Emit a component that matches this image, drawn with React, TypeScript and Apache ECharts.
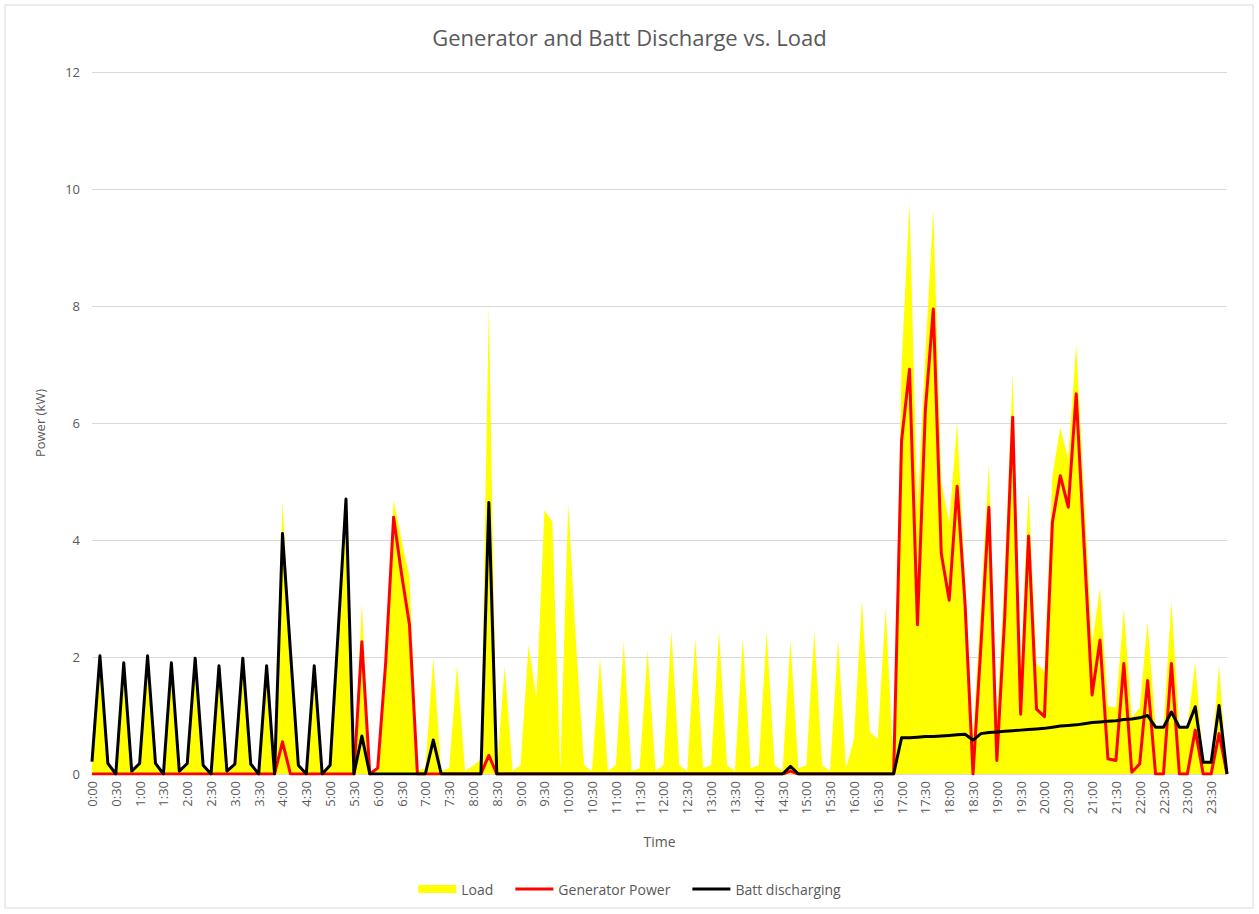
import React, { useEffect, useRef } from "react";
import * as echarts from "echarts";

const times: string[] = [
  "0:00","0:10","0:20","0:30","0:40","0:50","1:00","1:10","1:20","1:30","1:40","1:50",
  "2:00","2:10","2:20","2:30","2:40","2:50","3:00","3:10","3:20","3:30","3:40","3:50",
  "4:00","4:10","4:20","4:30","4:40","4:50","5:00","5:10","5:20","5:30","5:40","5:50",
  "6:00","6:10","6:20","6:30","6:40","6:50","7:00","7:10","7:20","7:30","7:40","7:50",
  "8:00","8:10","8:20","8:30","8:40","8:50","9:00","9:10","9:20","9:30","9:40","9:50",
  "10:00","10:10","10:20","10:30","10:40","10:50","11:00","11:10","11:20","11:30","11:40","11:50",
  "12:00","12:10","12:20","12:30","12:40","12:50","13:00","13:10","13:20","13:30","13:40","13:50",
  "14:00","14:10","14:20","14:30","14:40","14:50","15:00","15:10","15:20","15:30","15:40","15:50",
  "16:00","16:10","16:20","16:30","16:40","16:50","17:00","17:10","17:20","17:30","17:40","17:50",
  "18:00","18:10","18:20","18:30","18:40","18:50","19:00","19:10","19:20","19:30","19:40","19:50",
  "20:00","20:10","20:20","20:30","20:40","20:50","21:00","21:10","21:20","21:30","21:40","21:50",
  "22:00","22:10","22:20","22:30","22:40","22:50","23:00","23:10","23:20","23:30","23:40","23:50",
];

const load: number[] = [
  0.21, 2.02, 0.18, 0, 1.9, 0.05, 0.18, 2.02, 0.18, 0, 1.9, 0.05,
  0.18, 1.98, 0.15, 0, 1.85, 0.05, 0.17, 1.98, 0.17, 0, 1.85, 0,
  4.66, 2.1, 0.15, 0, 1.85, 0, 0.15, 2.4, 4.7, 0, 2.91, 0,
  0.12, 1.95, 4.68, 4.0, 3.37, 0.05, 0.1, 1.98, 0.05, 0.1, 1.86, 0.05,
  0.14, 0.25, 8.0, 0.05, 1.84, 0.05, 0.15, 2.2, 1.3, 4.51, 4.31, 0.05,
  4.63, 2.2, 0.15, 0.05, 1.98, 0.05, 0.15, 2.25, 0.05, 0.1, 2.12, 0.05,
  0.15, 2.43, 0.15, 0.05, 2.32, 0.1, 0.15, 2.43, 0.15, 0.05, 2.32, 0.1,
  0.15, 2.43, 0.15, 0.05, 2.29, 0.1, 0.15, 2.43, 0.15, 0.05, 2.29, 0.1,
  0.6, 2.97, 0.72, 0.6, 2.83, 0.05, 7.0, 9.76, 4.5, 7.2, 9.64, 5.0,
  4.3, 6.0, 3.3, 0.6, 2.9, 5.3, 0.95, 3.42, 6.85, 1.77, 4.83, 1.88,
  1.76, 5.1, 5.92, 5.39, 7.34, 4.76, 2.23, 3.18, 1.16, 1.14, 2.82, 0.97,
  1.13, 2.6, 0.8, 0.8, 2.95, 0.8, 0.8, 1.9, 0.2, 0.2, 1.86, 0,
];

const generatorPower: number[] = [
  0, 0, 0, 0, 0, 0, 0, 0, 0, 0, 0, 0,
  0, 0, 0, 0, 0, 0, 0, 0, 0, 0, 0, 0,
  0.55, 0, 0, 0, 0, 0, 0, 0, 0, 0, 2.26, 0,
  0.1, 1.9, 4.39, 3.42, 2.55, 0, 0, 0, 0, 0, 0, 0,
  0, 0, 0.32, 0, 0, 0, 0, 0, 0, 0, 0, 0,
  0, 0, 0, 0, 0, 0, 0, 0, 0, 0, 0, 0,
  0, 0, 0, 0, 0, 0, 0, 0, 0, 0, 0, 0,
  0, 0, 0, 0, 0.05, 0, 0, 0, 0, 0, 0, 0,
  0, 0, 0, 0, 0, 0, 5.7, 6.92, 2.55, 6.23, 7.95, 3.77,
  2.97, 4.92, 2.9, 0, 2.2, 4.56, 0.23, 2.69, 6.1, 1.02, 4.07, 1.11,
  0.98, 4.3, 5.1, 4.56, 6.5, 3.9, 1.35, 2.29, 0.26, 0.23, 1.89, 0.03,
  0.17, 1.6, 0, 0, 1.89, 0, 0, 0.75, 0, 0, 0.69, 0,
];

const battDischarging: number[] = [
  0.21, 2.02, 0.18, 0, 1.9, 0.05, 0.18, 2.02, 0.18, 0, 1.9, 0.05,
  0.18, 1.98, 0.15, 0, 1.85, 0.05, 0.17, 1.98, 0.17, 0, 1.85, 0,
  4.11, 2.1, 0.15, 0, 1.85, 0, 0.15, 2.4, 4.7, 0, 0.65, 0,
  0, 0, 0, 0, 0, 0, 0, 0.58, 0, 0, 0, 0,
  0, 0, 4.64, 0, 0, 0, 0, 0, 0, 0, 0, 0,
  0, 0, 0, 0, 0, 0, 0, 0, 0, 0, 0, 0,
  0, 0, 0, 0, 0, 0, 0, 0, 0, 0, 0, 0,
  0, 0, 0, 0, 0.13, 0, 0, 0, 0, 0, 0, 0,
  0, 0, 0, 0, 0, 0, 0.62, 0.62, 0.63, 0.64, 0.64, 0.65,
  0.66, 0.67, 0.68, 0.58, 0.69, 0.71, 0.72, 0.73, 0.74, 0.75, 0.76, 0.77,
  0.78, 0.8, 0.82, 0.83, 0.84, 0.86, 0.88, 0.89, 0.9, 0.91, 0.93, 0.94,
  0.96, 1.0, 0.8, 0.8, 1.06, 0.8, 0.8, 1.15, 0.2, 0.2, 1.17, 0,
];

const yTicks = { min: 0, max: 12, interval: 2 };

const FONT = "'Open Sans', 'Noto Sans', sans-serif";
const TEXT = "#595959";
// thin horizontal stripe, with tiny corner specks so the icon keeps a 38x8 box
const LINE_ICON =
  "path://M0,0L0.02,0L0,0.02Z M0,2.6L38,2.6L38,5.4L0,5.4Z M38,8L37.98,8L38,7.98Z";

export default function App() {
  const ref = useRef<HTMLDivElement>(null);

  useEffect(() => {
    if (!ref.current) return;
    const chart = echarts.init(ref.current, undefined, { renderer: "svg" });
    chart.setOption({
      animation: false,
      backgroundColor: "#ffffff",
      textStyle: { fontFamily: FONT, color: TEXT },
      title: {
        text: "Generator and Batt Discharge vs. Load",
        left: "center",
        top: 21,
        textStyle: { fontFamily: FONT, fontSize: 22, fontWeight: "normal", color: TEXT },
      },
      graphic: [
        {
          type: "rect",
          shape: { x: 5, y: 5, width: 1248, height: 903 },
          style: { fill: "none", stroke: "#d9d9d9", lineWidth: 1 },
          silent: true,
        },
      ],
      legend: {
        top: 877,
        left: "center",
        itemWidth: 38,
        itemHeight: 8,
        itemGap: 22,
        textStyle: { fontFamily: FONT, fontSize: 14, color: TEXT },
        data: [
          { name: "Load", icon: "rect", itemStyle: { color: "#FFFF00" } },
          { name: "Generator Power", icon: LINE_ICON, itemStyle: { color: "#FF0000" } },
          { name: "Batt discharging", icon: LINE_ICON, itemStyle: { color: "#000000" } },
        ],
      },
      grid: { left: 92, right: 32, top: 72, bottom: 140, containLabel: false },
      xAxis: {
        type: "category",
        data: times,
        boundaryGap: false,
        name: "Time",
        nameLocation: "middle",
        nameGap: 60,
        nameTextStyle: { fontFamily: FONT, fontSize: 14, color: TEXT },
        axisLine: { show: true, lineStyle: { color: "#d9d9d9", width: 1 } },
        axisTick: { show: false },
        axisLabel: {
          interval: 2,
          rotate: 90,
          margin: 7,
          fontFamily: FONT,
          fontSize: 13,
          color: TEXT,
        },
        splitLine: { show: false },
      },
      yAxis: {
        type: "value",
        min: yTicks.min,
        max: yTicks.max,
        interval: yTicks.interval,
        name: "Power (kW)",
        nameLocation: "middle",
        nameGap: 46,
        nameTextStyle: { fontFamily: FONT, fontSize: 13, color: TEXT },
        axisLine: { show: false },
        axisTick: { show: false },
        axisLabel: { margin: 12, fontFamily: FONT, fontSize: 13, color: TEXT },
        splitLine: { show: true, lineStyle: { color: "#d9d9d9", width: 1 } },
      },
      series: [
        {
          name: "Load",
          type: "line",
          data: load,
          symbol: "none",
          showSymbol: false,
          itemStyle: { color: "#FFFF00" },
          lineStyle: { width: 0, color: "#FFFF00" },
          areaStyle: { color: "#FFFF00", opacity: 1 },
          z: 1,
        },
        {
          name: "Generator Power",
          type: "line",
          data: generatorPower,
          symbol: "none",
          showSymbol: false,
          itemStyle: { color: "#FF0000" },
          lineStyle: { width: 3, color: "#FF0000", join: "round" },
          z: 2,
        },
        {
          name: "Batt discharging",
          type: "line",
          data: battDischarging,
          symbol: "none",
          showSymbol: false,
          itemStyle: { color: "#000000" },
          lineStyle: { width: 3, color: "#000000", join: "round" },
          z: 3,
        },
      ],
    });
    return () => chart.dispose();
  }, []);

  return (
    <div
      ref={ref}
      style={{ position: "fixed", left: 0, top: 0, width: 1259, height: 914 }}
    />
  );
}
